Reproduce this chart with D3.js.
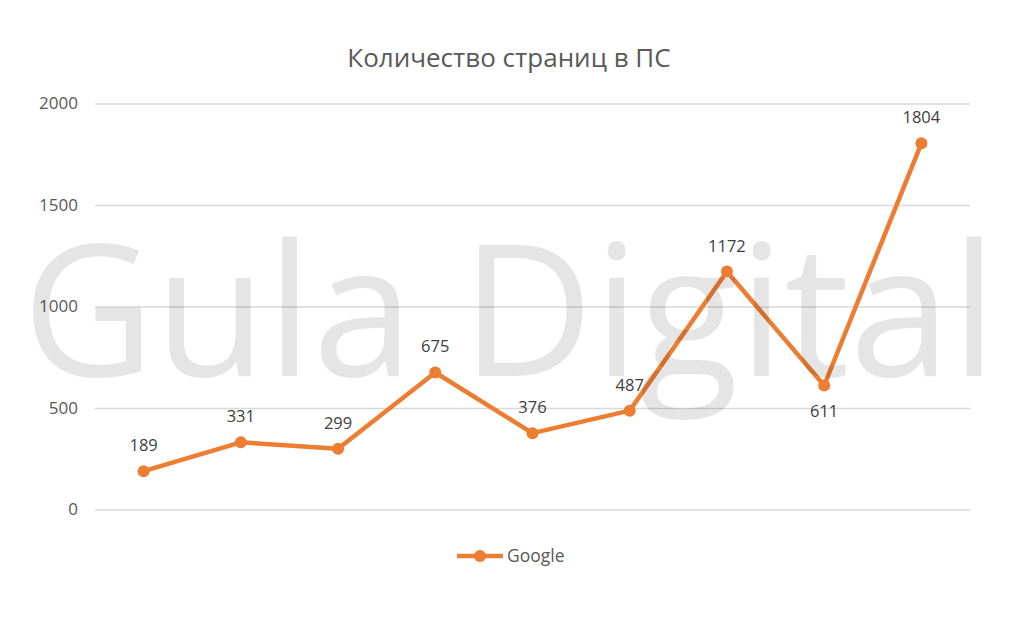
<!DOCTYPE html>
<html>
<head>
<meta charset="utf-8">
<script src="https://cdn.jsdelivr.net/npm/d3@7"></script>
<style>
  body { margin: 0; background: #fff; }
  text { font-family: "Open Sans", "Noto Sans", sans-serif; }
</style>
</head>
<body>
<div class="canvas"></div>
<script>
// data
const categories = ['1', '2', '3', '4', '5', '6', '7', '8', '9'];
const googleValues = [189, 331, 299, 675, 376, 487, 1172, 611, 1804];
const yTicks = [0, 500, 1000, 1500, 2000];
const labelBelow = [false, false, false, false, false, false, false, true, false];

const width = 1024, height = 625;
const margin = { top: 103.5, right: 54, bottom: 115.5, left: 95 };
const graphWidth = width - margin.left - margin.right;
const graphHeight = height - margin.top - margin.bottom;
const orange = '#ED7D31';

const svg = d3.select('.canvas')
  .append('svg')
  .attr('width', width)
  .attr('height', height);

// title
svg.append('text')
  .attr('x', 509)
  .attr('y', 67)
  .attr('text-anchor', 'middle')
  .attr('font-size', 26)
  .attr('fill', '#595959')
  .text('Количество страниц в ПС');

const graph = svg.append('g')
  .attr('transform', `translate(${margin.left}, ${margin.top})`);

// scales
const x = d3.scalePoint()
  .domain(categories)
  .range([0, graphWidth])
  .padding(0.5);
const y = d3.scaleLinear()
  .domain([0, 2000])
  .range([graphHeight, 0]);

// grid + tick labels
const yAxis = d3.axisLeft(y)
  .tickValues(yTicks)
  .tickSize(-graphWidth)
  .tickPadding(17)
  .tickFormat(d3.format('d'));
const yAxisGroup = graph.append('g').call(yAxis);
yAxisGroup.select('.domain').remove();
yAxisGroup.selectAll('line')
  .attr('stroke', '#d9d9d9')
  .attr('stroke-width', 1.3);
yAxisGroup.selectAll('text')
  .attr('fill', '#595959')
  .attr('font-size', 17)
  .attr('font-family', '"Open Sans", "Noto Sans", sans-serif');

// line
const line = d3.line()
  .x((d, i) => x(categories[i]))
  .y(d => y(d));
graph.append('path')
  .datum(googleValues)
  .attr('d', line)
  .attr('fill', 'none')
  .attr('stroke', orange)
  .attr('stroke-width', 4.5)
  .attr('stroke-linejoin', 'round');

graph.selectAll('circle.pt')
  .data(googleValues)
  .enter()
  .append('circle')
  .attr('class', 'pt')
  .attr('cx', (d, i) => x(categories[i]))
  .attr('cy', d => y(d))
  .attr('r', 6)
  .attr('fill', orange);

// data labels
graph.selectAll('text.lbl')
  .data(googleValues)
  .enter()
  .append('text')
  .attr('class', 'lbl')
  .attr('x', (d, i) => x(categories[i]))
  .attr('y', (d, i) => labelBelow[i] ? y(d) + 32 : y(d) - 20)
  .attr('text-anchor', 'middle')
  .attr('font-size', 16.5)
  .attr('fill', '#404040')
  .text(d => d);

// legend
const legend = svg.append('g').attr('transform', 'translate(457, 556)');
legend.append('line')
  .attr('x1', 0).attr('x2', 46)
  .attr('stroke', orange)
  .attr('stroke-width', 4.5);
legend.append('circle')
  .attr('cx', 23)
  .attr('r', 6)
  .attr('fill', orange);
legend.append('text')
  .attr('x', 50)
  .attr('y', 6)
  .attr('font-size', 17.5)
  .attr('fill', '#595959')
  .text('Google');

// watermark over everything
svg.append('text')
  .attr('x', 22)
  .attr('y', 376)
  .attr('font-size', 184)
  .attr('textLength', 975)
  .attr('lengthAdjust', 'spacingAndGlyphs')
  .attr('fill', '#000')
  .attr('fill-opacity', 0.1)
  .attr('font-family', '"Open Sans", sans-serif')
  .text('Gula Digital');
</script>
</body>
</html>
